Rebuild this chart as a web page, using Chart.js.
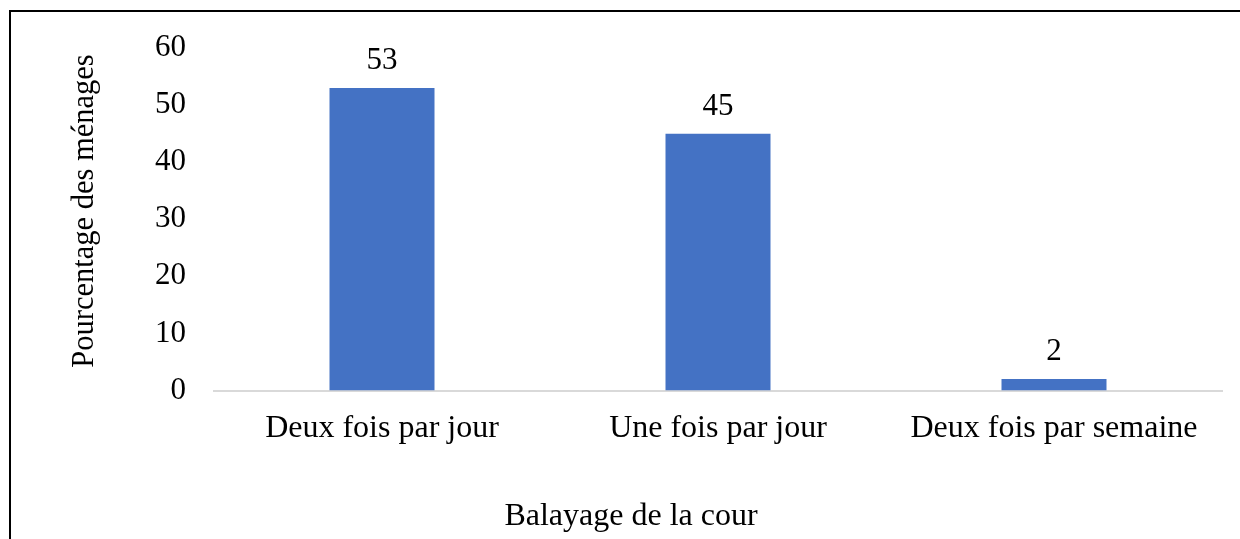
<!DOCTYPE html>
<html lang="fr">
<head>
<meta charset="utf-8">
<title>Balayage de la cour</title>
<script src="https://cdn.jsdelivr.net/npm/chart.js@4.4.1/dist/chart.umd.min.js"></script>
<style>
  html, body { margin: 0; padding: 0; background: #fff; }
  #wrap { position: relative; width: 1240px; height: 539px; overflow: hidden; }
  #cadre {
    position: absolute; left: 9px; top: 10px; right: -5px; bottom: -5px;
    border-top: 2px solid #000; border-left: 2px solid #000;
  }
  #balayageChart { position: absolute; left: 0; top: 0; }
</style>
</head>
<body>
<div id="wrap">
  <div id="cadre"></div>
  <canvas id="balayageChart" width="1240" height="539"></canvas>
</div>
<script>
// Données
const categories = ["Deux fois par jour", "Une fois par jour", "Deux fois par semaine"];
const pourcentages = [53, 45, 2];
const yTicks = [0, 10, 20, 30, 40, 50, 60];

const titreX = "Balayage de la cour";
const titreY = "Pourcentage des ménages";

const police = "'Liberation Serif', 'Times New Roman', serif";

// Étiquettes de valeur au-dessus des barres + titres des axes
const etiquettesPlugin = {
  id: 'etiquettes',
  afterDatasetsDraw(chart) {
    const ctx = chart.ctx;
    ctx.save();
    ctx.fillStyle = '#000';
    ctx.textAlign = 'center';
    ctx.textBaseline = 'alphabetic';
    ctx.font = `31px ${police}`;
    chart.getDatasetMeta(0).data.forEach((bar, i) => {
      ctx.fillText(String(pourcentages[i]), bar.x, bar.y - 19);
    });

    // titre de l'axe horizontal
    ctx.font = `32px ${police}`;
    ctx.fillText(titreX, 631, 525);

    // titre de l'axe vertical
    ctx.font = `30.5px ${police}`;
    ctx.translate(93, 211);
    ctx.rotate(-Math.PI / 2);
    ctx.fillText(titreY, 0, 0);
    ctx.restore();
  }
};

document.addEventListener("DOMContentLoaded", () => {
  const ctx = document.getElementById('balayageChart').getContext('2d');
  new Chart(ctx, {
    type: 'bar',
    data: {
      labels: categories,
      datasets: [{
        label: titreY,
        data: pourcentages,
        backgroundColor: '#4472C4',
        borderWidth: 0,
        barPercentage: 0.3125,
        categoryPercentage: 1
      }]
    },
    options: {
      responsive: false,
      animation: false,
      layout: { padding: { top: 48, right: 18, bottom: 0, left: 0 } },
      scales: {
        x: {
          grid: { display: false, drawTicks: false },
          border: { display: true, color: '#d9d9d9', width: 2 },
          ticks: {
            color: '#000',
            font: { family: police, size: 32 },
            padding: 19,
            maxRotation: 0,
            autoSkip: false
          },
          afterFit: scale => { scale.height = 148.5; }
        },
        y: {
          min: 0,
          max: 60,
          grid: { display: false, drawTicks: false },
          border: { display: false },
          afterBuildTicks: scale => { scale.ticks = yTicks.map(v => ({ value: v })); },
          ticks: {
            color: '#000',
            font: { family: police, size: 31 },
            padding: 28
          },
          afterFit: scale => { scale.width = 214; }
        }
      },
      plugins: {
        legend: { display: false },
        tooltip: { enabled: false }
      }
    },
    plugins: [etiquettesPlugin]
  });
});
</script>
</body>
</html>
